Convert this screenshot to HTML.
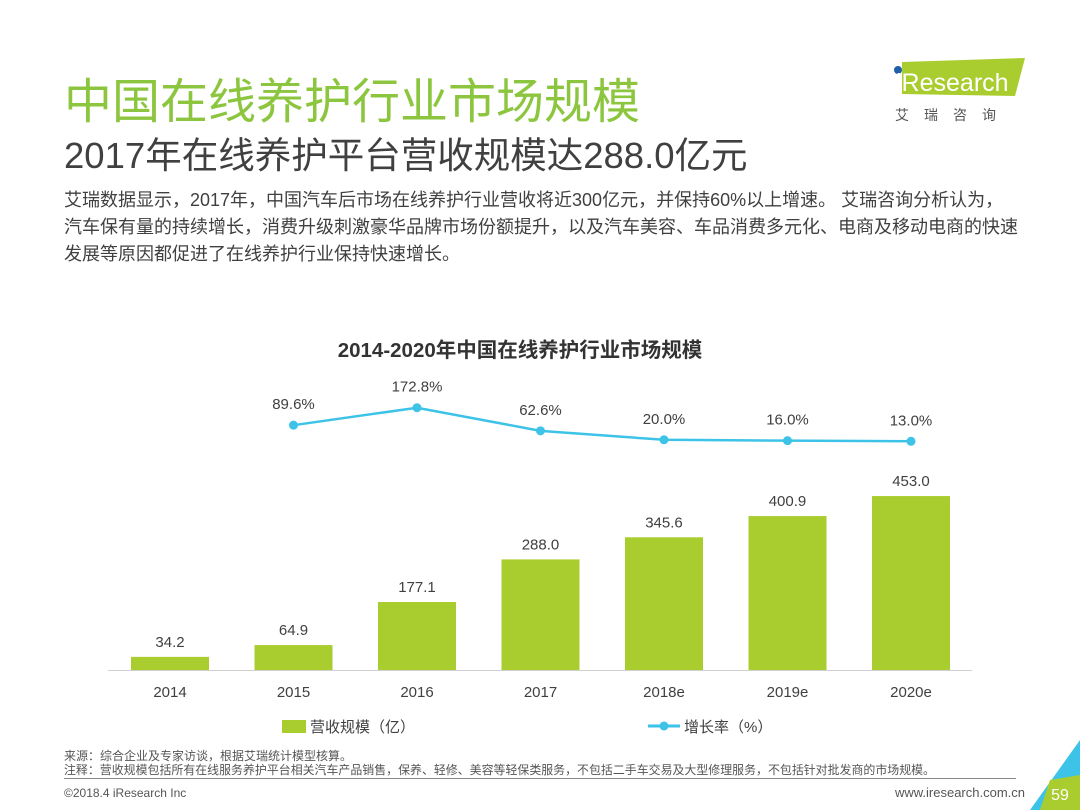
<!DOCTYPE html>
<html><head><meta charset="utf-8">
<style>
body{margin:0;width:1080px;height:810px;background:#fff;font-family:"Liberation Sans","Noto Sans CJK SC",sans-serif;position:relative;overflow:hidden}
.a{position:absolute;white-space:nowrap}
</style></head><body>
<div class="a" style="left:64px;top:62px;font-size:48px;color:#8cc63e;">中国在线养护行业市场规模</div>
<div class="a" style="left:64px;top:126px;font-size:36.5px;color:#404040;">2017年在线养护平台营收规模达288.0亿元</div>
<div class="a" style="left:64px;top:187px;font-size:18px;line-height:27px;letter-spacing:0px;color:#404040;">艾瑞数据显示，2017年，中国汽车后市场在线养护行业营收将近300亿元，并保持60%以上增速。 艾瑞咨询分析认为，<br>汽车保有量的持续增长，消费升级刺激豪华品牌市场份额提升，以及汽车美容、车品消费多元化、电商及移动电商的快速<br>发展等原因都促进了在线养护行业保持快速增长。</div>
<div class="a" style="left:890px;top:58px;width:140px;height:70px">
 <svg width="140" height="70"><polygon points="12,4 135,0 125,38 12,36" fill="#a9cd2f"/><circle cx="8" cy="12" r="4" fill="#1f5fa8"/><text x="6" y="33" font-size="25" fill="#fff" font-family="Liberation Sans">iResearch</text><text x="5" y="62" font-size="14" fill="#555" letter-spacing="15" font-family="Noto Sans CJK SC">艾瑞咨询</text></svg>
</div>
<svg class="a" style="left:0;top:0" width="1080" height="810">
<text x="520" y="357" font-size="20.5" font-weight="bold" fill="#333" text-anchor="middle">2014-2020年中国在线养护行业市场规模</text>
<line x1="108" y1="670.5" x2="972" y2="670.5" stroke="#d0d0d0"/>
<g id="bars"></g><g id="line"></g><g id="xl"></g>
<rect x="282" y="720" width="24" height="13" fill="#a9cd2f"/>
<text x="310" y="732" font-size="15" fill="#404040">营收规模（亿）</text>
<line x1="648" y1="726" x2="680" y2="726" stroke="#3ec3e8" stroke-width="3"/>
<circle cx="664" cy="726" r="4.5" fill="#3ec3e8"/>
<text x="684" y="732" font-size="15" fill="#404040">增长率（%）</text>
<text x="64" y="760" font-size="12" fill="#555">来源：综合企业及专家访谈，根据艾瑞统计模型核算。</text>
<text x="64" y="774" font-size="12" fill="#555" textLength="871" lengthAdjust="spacingAndGlyphs">注释：营收规模包括所有在线服务养护平台相关汽车产品销售，保养、轻修、美容等轻保类服务，不包括二手车交易及大型修理服务，不包括针对批发商的市场规模。</text>
<line x1="64" y1="778.5" x2="1016" y2="778.5" stroke="#888"/>
<text x="64" y="797" font-size="12" fill="#555">©2018.4 iResearch Inc</text>
<text x="1025" y="797" font-size="13" fill="#555" text-anchor="end">www.iresearch.com.cn</text>
<polygon points="1080,740 1080,810 1030,810" fill="#3ec3e8"/>
<polygon points="1050,780 1080,775 1080,810 1040,810" fill="#a9cd2f"/>
<text x="1060" y="800" font-size="16" fill="#fff" text-anchor="middle">59</text>
</svg>
<script>
const categories=["2014","2015","2016","2017","2018e","2019e","2020e"];
const revenue=[34.2,64.9,177.1,288.0,345.6,400.9,453.0];
const growth=[null,89.6,172.8,62.6,20.0,16.0,13.0];
const NS="http://www.w3.org/2000/svg";
const xs=i=>170+i*123.5;
const yb=v=>670-v*0.384;
const yl=v=>444-v*0.21;
function mk(t,a,p){const e=document.createElementNS(NS,t);for(const k in a)e.setAttribute(k,a[k]);document.getElementById(p).appendChild(e);return e;}
let pts=[];
categories.forEach((c,i)=>{
 const r=mk("rect",{x:xs(i)-39,y:yb(revenue[i]),width:78,height:670-yb(revenue[i]),fill:"#a9cd2f"},"bars");
 
 
 const t=mk("text",{x:xs(i),y:yb(revenue[i])-10,"font-size":15,fill:"#404040","text-anchor":"middle"},"bars");
 t.textContent=revenue[i].toFixed(1);
 
 
 const x=mk("text",{x:xs(i),y:697,"font-size":15,fill:"#404040","text-anchor":"middle"},"xl");
 x.textContent=c;
 
 
 if(growth[i]!=null)pts.push([xs(i),yl(growth[i]),growth[i]]);
});
const pl=mk("polyline",{points:pts.map(p=>p[0]+","+p[1]).join(" "),fill:"none",stroke:"#3ec3e8","stroke-width":2.5},"line");


pts.forEach(p=>{
 const c=mk("circle",{cx:p[0],cy:p[1],r:4.5,fill:"#3ec3e8"},"line");
 
 
 const t=mk("text",{x:p[0],y:p[1]-16,"font-size":15,fill:"#404040","text-anchor":"middle"},"line");
 t.textContent=p[2].toFixed(1)+"%";
 
 
});
</script>
</body></html>
